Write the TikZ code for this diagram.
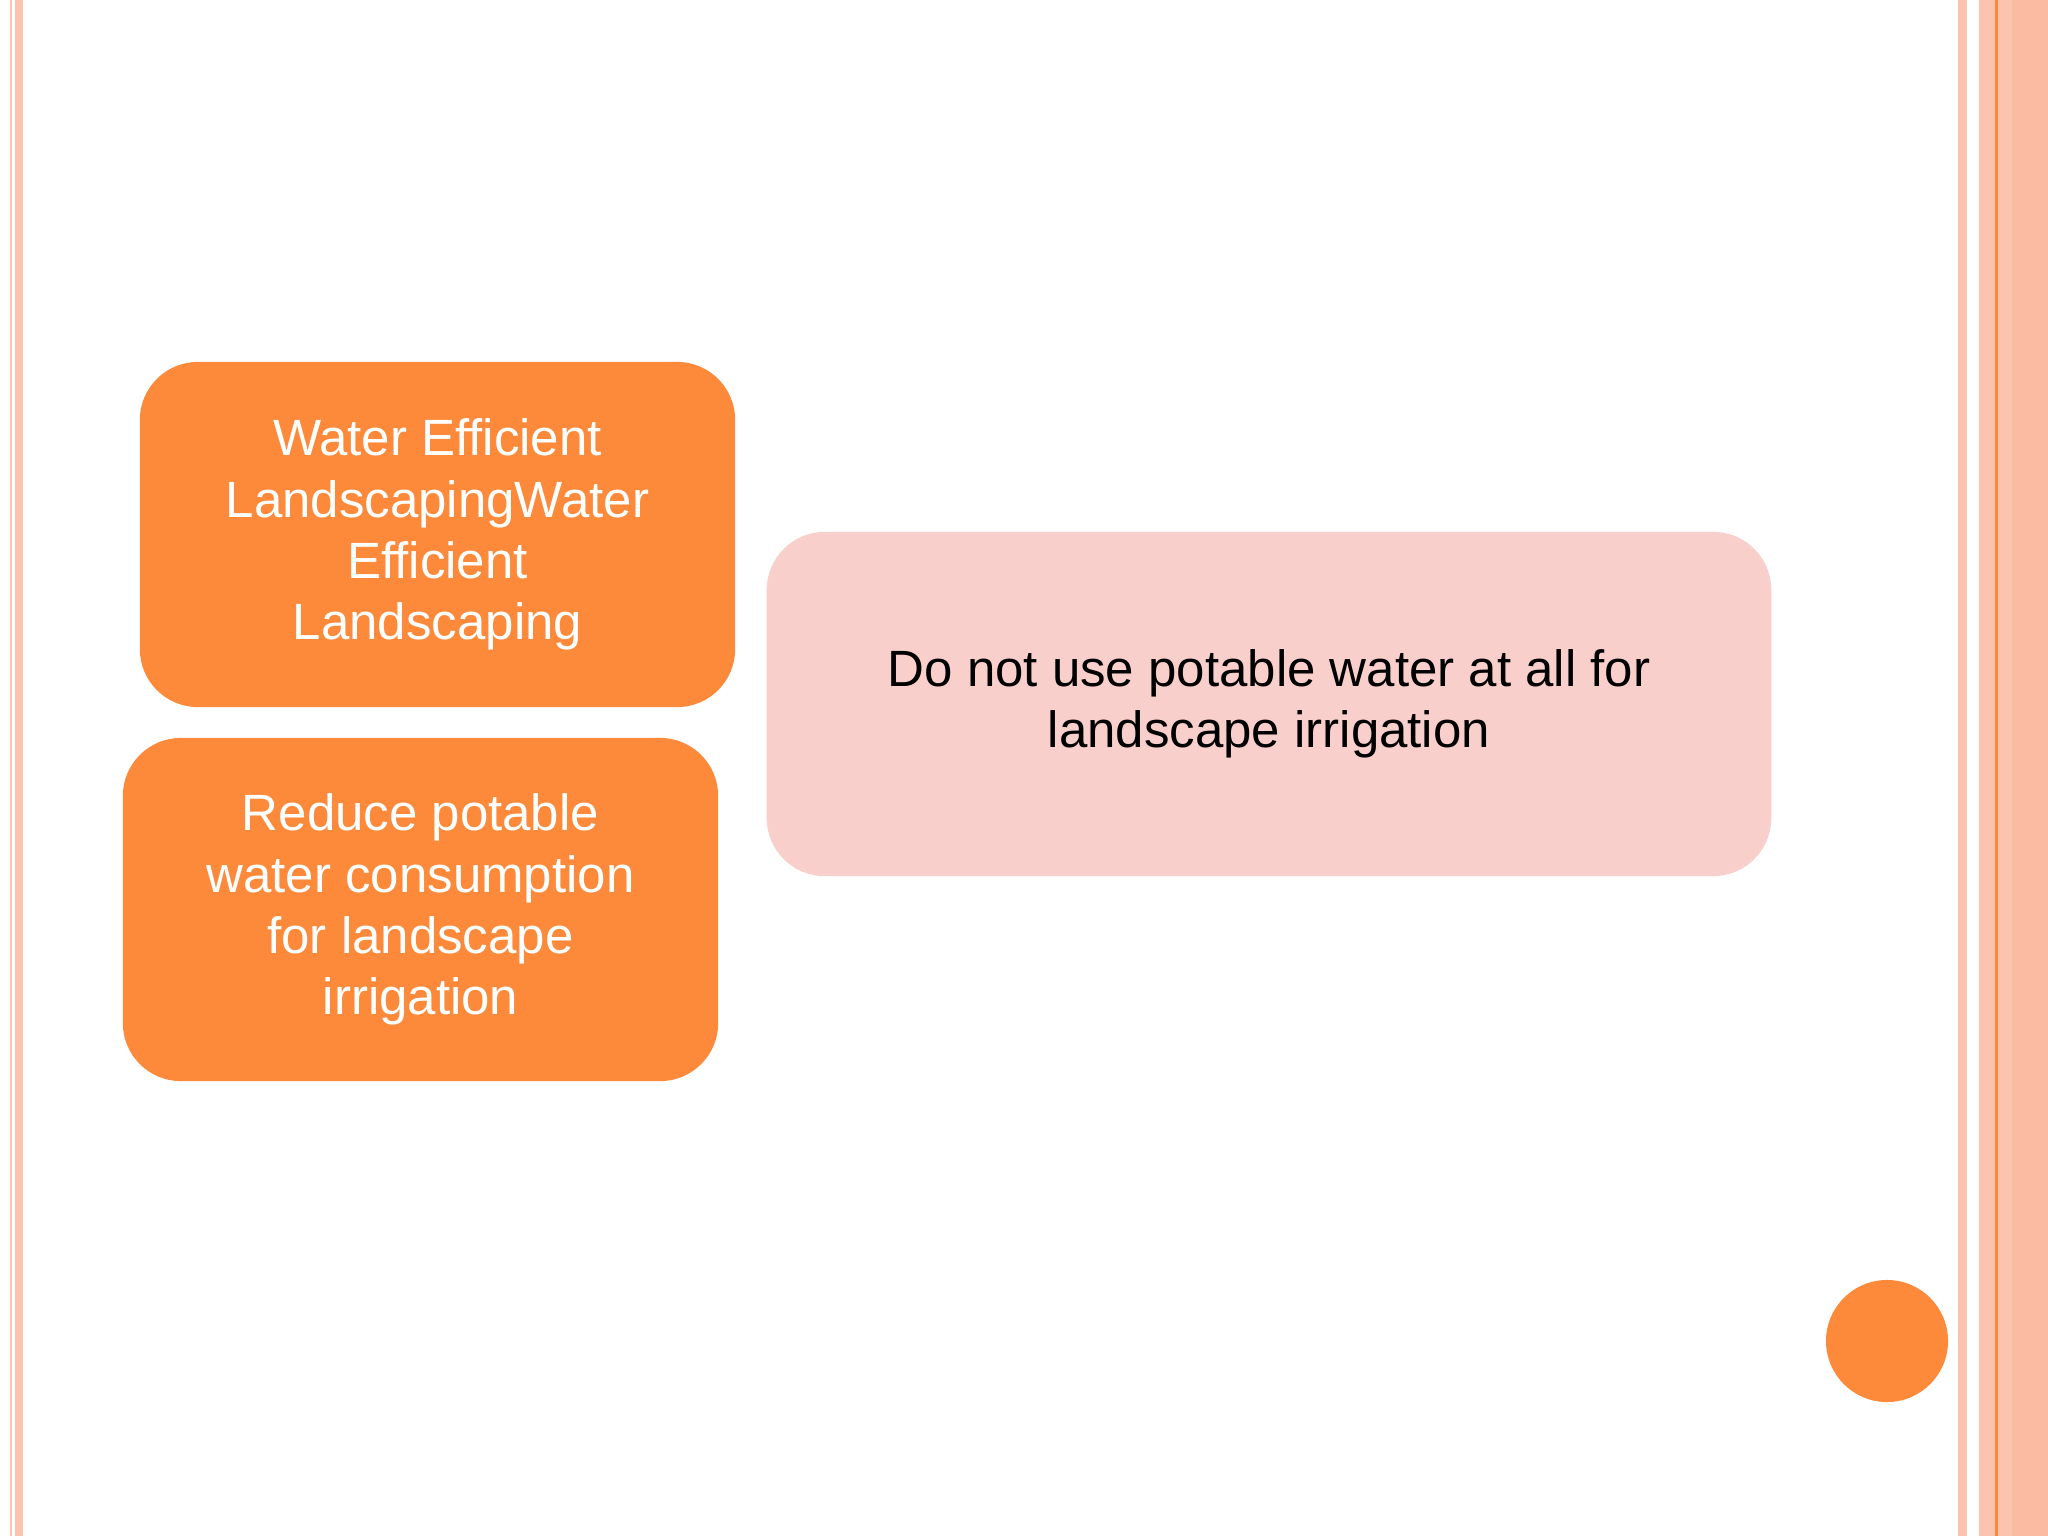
\documentclass[tikz,border=0pt]{standalone}
\usepackage{fontspec}
\setmainfont{Liberation Sans}
\definecolor{org}{HTML}{FD8A3B}
\definecolor{pk}{HTML}{F8CFCA}
\definecolor{st}{HTML}{FCC4AE}
\definecolor{st2}{HTML}{FBBBA2}
\begin{document}
\begin{tikzpicture}[x=0.01cm,y=-0.01cm,
 box/.style={rounded corners=0.58cm,inner sep=0pt,align=center,font=\fontsize{14.5}{17.4}\selectfont}]
\useasboundingbox (0,0) rectangle (2048,1536);
\fill[white] (0,0) rectangle (2048,1536);
\fill[st] (10,0) rectangle (12,1536);
\fill[st] (15,0) rectangle (23,1536);
\fill[st] (1958,0) rectangle (1967,1536);
\fill[st] (1979,0) rectangle (1995,1536);
\fill[org] (1995,0) rectangle (1998,1536);
\fill[st] (1998,0) rectangle (2012,1536);
\fill[st2] (2012,0) rectangle (2048,1536);
\node[box,fill=org,text=white,minimum width=5.95cm,minimum height=3.45cm] (a) at (437.5,534.5) {Water Efficient\\LandscapingWater\\Efficient\\Landscaping};
\node[box,fill=org,text=white,minimum width=5.95cm,minimum height=3.43cm] (b) at (420.5,909.5) {Reduce potable\\water consumption\\for landscape\\irrigation};
\node[box,fill=pk,text=black,minimum width=10.04cm,minimum height=3.44cm] (c) at (1269,704) {Do not use potable water at all for\\landscape irrigation};
\node[circle,fill=org,minimum size=1.22cm,inner sep=0pt] (d) at (1887,1341) {};
\end{tikzpicture}
\end{document}
